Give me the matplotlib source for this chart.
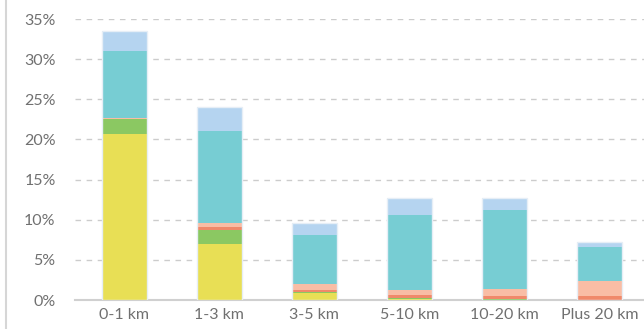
import matplotlib.pyplot as plt
from matplotlib.lines import Line2D
import numpy as np

plt.rcParams['font.family'] = ['Lato', 'DejaVu Sans']

distances = ['0-1 km', '1-3 km', '3-5 km', '5-10 km', '10-20 km', 'Plus 20 km']

# share of trips (%) per distance band, stacked bottom to top
walk = [20.7, 7.0, 0.85, 0.15, 0.05, 0.0]
bike = [1.8, 1.7, 0.15, 0.15, 0.1, 0.0]
bus = [0.1, 0.4, 0.2, 0.3, 0.3, 0.55]
train = [0.1, 0.5, 0.8, 0.7, 0.95, 1.8]
car = [8.3, 11.5, 6.1, 9.3, 9.8, 4.25]
other = [2.5, 3.0, 1.45, 2.1, 1.5, 0.6]

series = [walk, bike, bus, train, car, other]
colors = ['#e8df55', '#8bc862', '#f0896a', '#f9bda5', '#77cdd3', '#b5d4f0']

fig = plt.figure(figsize=(6.44, 3.29), dpi=100)
ax = fig.add_axes([0.1165, 0.088, 0.8835, 0.854])

x = np.arange(len(distances))
bottom = np.zeros(len(distances))
for vals, col in zip(series, colors):
    ax.bar(x, vals, width=0.48, bottom=bottom, color=col, linewidth=0, zorder=3)
    bottom += np.array(vals)
# faint outline around each full stack
ax.bar(x, bottom, width=0.48, fill=False, edgecolor='#e6eef6', linewidth=1, zorder=4)

ax.set_xlim(-0.52, 5.47)
ax.set_ylim(0, 35)
ax.set_yticks(np.arange(0, 36, 5))
ax.set_yticklabels([f'{v}%' for v in range(0, 36, 5)])
ax.set_xticks(x)
ax.set_xticklabels(distances)

ax.grid(axis='y', color='#cccccc', linestyle=(0, (4, 4)), linewidth=1, zorder=0)
for s in ['left', 'right', 'top']:
    ax.spines[s].set_visible(False)
ax.spines['bottom'].set_color('#d0d0d0')
ax.spines['bottom'].set_linewidth(1.5)
ax.tick_params(axis='both', length=0, labelsize=11.5, colors='#707070')
ax.tick_params(axis='y', pad=14)
ax.tick_params(axis='x', pad=6)

# thin frame line along the left edge
fig.add_artist(Line2D([6 / 644, 6 / 644], [0, 1], color='#d6d6d6', linewidth=1.5))

fig.savefig('out.png', dpi=100, facecolor='white')
